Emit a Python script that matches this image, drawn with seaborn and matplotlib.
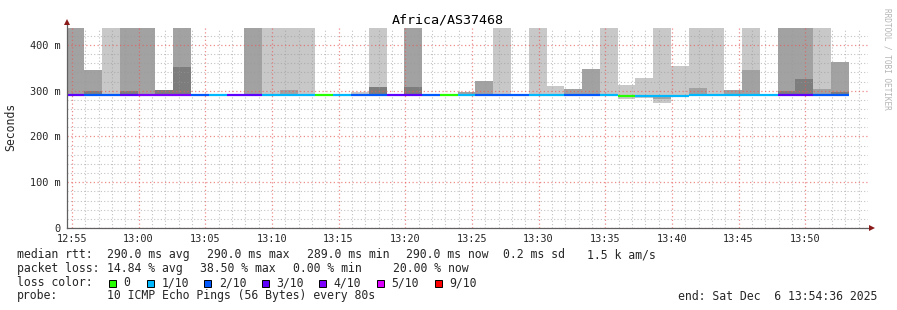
import numpy as np
import pandas as pd
import matplotlib
matplotlib.use("Agg")
import matplotlib.pyplot as plt
from matplotlib.patches import Rectangle
import seaborn as sns

# ---------------- data ----------------
title = "Africa/AS37468"
step_min = 80 / 60.0          # one probe round = 80 s
start_min = -0.4              # 12:54:36 relative to 12:55
n_bars = 44

median_rtt = [290, 290, 290, 290, 290, 290, 290, 290, 290, 290,
              290, 290, 290, 290, 290, 290, 290, 290, 290, 290,
              290, 290, 290, 290, 290, 290, 290, 290, 290, 290,
              290, 289, 289, 289, 289, 290, 290, 290, 290, 290,
              290, 290, 290, 290]
loss = [3, 2, 2, 3, 4, 4, 4, 2, 1, 3,
        3, 1, 1, 1, 0, 1, 2, 2, 3, 3,
        2, 0, 1, 2, 2, 2, 1, 1, 2, 2,
        1, 0, 1, 1, 1, 1, 1, 1, 1, 1,
        3, 3, 2, 2]

N = np.nan
light_low = [N, N, 290, N, N, N, N, N, N, N,
             N, 290, 290, 290, N, N, 290, 290, N, N,
             N, N, N, N, 290, N, 290, 290, N, N,
             290, 282, 283, 274, 290, 290, 290, N, 290, N,
             N, N, 290, N]
light_high = [N, N, 450, N, N, N, N, N, N, N,
              N, 450, 450, 450, N, N, 298, 450, N, N,
              N, N, N, N, 450, N, 450, 310, N, N,
              450, 313, 328, 450, 354, 450, 450, N, 450, N,
              N, N, 450, N]
mid_low = [290, 290, N, 290, 290, N, 290, N, N, N,
           290, N, 290, N, N, N, N, N, N, 290,
           N, N, 290, 290, N, N, N, N, 290, 290,
           N, N, N, 282, N, 290, N, 290, 290, N,
           290, 290, 290, 290]
mid_high = [450, 345, N, 450, 450, N, 450, N, N, N,
            450, N, 302, N, N, N, N, N, N, 450,
            N, N, 298, 321, N, N, N, N, 304, 348,
            N, N, N, 290, N, 306, N, 302, 346, N,
            450, 450, 304, 363]
dark_low = [N, 290, N, 290, N, 290, 290, N, N, N,
            N, N, N, N, N, N, N, 290, N, 290,
            N, N, N, N, N, N, N, N, N, N,
            N, N, N, N, N, N, N, N, N, N,
            290, 290, N, 290]
dark_high = [N, 299, N, 299, N, 302, 351, N, N, N,
             N, N, N, N, N, N, N, 307, N, 309,
             N, N, N, N, N, N, N, N, N, N,
             N, N, N, N, N, N, N, N, N, N,
             300, 326, N, 298]

xtick_minutes = [0, 5, 10, 15, 20, 25, 30, 35, 40, 45, 50, 55]
xtick_labels = ["12:55", "13:00", "13:05", "13:10", "13:15", "13:20",
                "13:25", "13:30", "13:35", "13:40", "13:45", "13:50"]
ytick_values = [0, 100, 200, 300, 400]
ytick_labels = ["0", "100 m", "200 m", "300 m", "400 m"]

loss_keys = [0, 1, 2, 3, 4, 5, 9]
loss_labels = ["0", "1/10", "2/10", "3/10", "4/10", "5/10", "9/10"]
loss_colors = ["#26ff00", "#00b8ff", "#0059ff", "#5e00ff", "#7e00ff", "#dd00ff", "#ff0000"]

stat_rtt = ["median rtt:", "290.0 ms avg", "290.0 ms max", "289.0 ms min",
            "290.0 ms now", "0.2 ms sd", "1.5 k am/s"]
stat_loss = ["packet loss:", "14.84 % avg", "38.50 % max", "0.00 % min", "20.00 % now"]
probe_text = ["probe:", "10 ICMP Echo Pings (56 Bytes) every 80s"]
end_text = "end: Sat Dec  6 13:54:36 2025"
side_text = "RRDTOOL / TOBI OETIKER"

# ---------------- style ----------------
sns.set_style("white")
plt.rcParams["font.family"] = ["DejaVu Sans Mono", "DejaVu Sans"]

W, H = 897, 310
fig = plt.figure(figsize=(W / 100, H / 100), dpi=100)
fig.patch.set_facecolor("white")


def fx(x):
    return x / W


def fy(y):
    return 1 - y / H


ax_left, ax_right, ax_top, ax_bot = 66.5, 868.0, 28.0, 228.0
ax = fig.add_axes([fx(ax_left), fy(ax_bot), (ax_right - ax_left) / W, (ax_bot - ax_top) / H])
ax.set_facecolor("white")

xmin = start_min
xmax = start_min + (ax_right - ax_left) / (200.0 / 15.0)
ax.set_xlim(xmin, xmax)
ax.set_ylim(0, 437)

starts = start_min + step_min * np.arange(n_bars)


def draw_band(lo, hi, color):
    lo = np.array(lo, dtype=float)
    hi = np.array(hi, dtype=float)
    ok = ~np.isnan(lo)
    ax.bar(starts[ok], hi[ok] - lo[ok], bottom=lo[ok], width=step_min,
           align="edge", color=color, linewidth=0, zorder=1)


draw_band(light_low, light_high, "#c8c8c8")
draw_band(mid_low, mid_high, "#a2a2a2")
draw_band(dark_low, dark_high, "#7d7d7d")

# median line coloured by loss, via seaborn
lab_of = dict(zip(loss_keys, loss_labels))
rows = []
for k in range(n_bars):
    for t in (starts[k], starts[k] + step_min):
        rows.append({"t": t, "rtt": median_rtt[k], "seg": k, "loss": lab_of[loss[k]]})
df = pd.DataFrame(rows)
sns.lineplot(data=df, x="t", y="rtt", hue="loss", units="seg", estimator=None,
             palette=dict(zip(loss_labels, loss_colors)), linewidth=1.6,
             legend=False, ax=ax, zorder=4, solid_capstyle="butt")
ax.set_xlabel("")
ax.set_ylabel("")

# grid (drawn over smoke like rrdtool)
ax.set_xticks(xtick_minutes)
ax.set_xticklabels(xtick_labels)
ax.set_xticks(np.arange(0, 60, 1), minor=True)
ax.set_yticks(ytick_values)
ax.set_yticklabels(ytick_labels)
ax.set_yticks(np.arange(0, 437, 20), minor=True)
ax.set_axisbelow(False)
ax.grid(which="major", color="#e85a5a", alpha=0.7, linestyle=(0, (1, 2)), linewidth=0.9, zorder=2)
ax.grid(which="minor", color="#9a9a9a", alpha=0.6, linestyle=(0, (1, 2)), linewidth=0.8, zorder=2)

ax.tick_params(axis="both", which="major", length=3, width=0.8, color="#606060",
               direction="inout", labelsize=7.4, pad=2.5)
ax.tick_params(axis="both", which="minor", length=2, width=0.6, color="#909090", direction="inout")

for s in ("top", "right"):
    ax.spines[s].set_visible(False)
for s in ("left", "bottom"):
    ax.spines[s].set_color("#606060")
    ax.spines[s].set_linewidth(0.9)
    ax.spines[s].set_zorder(5)

# arrows
ax.plot([0], [1.03], marker="^", color="#8b1a1a", markersize=4.5, transform=ax.transAxes,
        clip_on=False, zorder=6, markeredgewidth=0)
ax.plot([1.005], [0], marker=">", color="#8b1a1a", markersize=4.5, transform=ax.transAxes,
        clip_on=False, zorder=6, markeredgewidth=0)
ax.spines["left"].set_bounds(0, 450)

# title / labels
fig.text(fx(448), fy(20), title, ha="center", va="center", fontsize=9.6, color="black")
fig.text(fx(11), fy(127), "Seconds", rotation=90, ha="center", va="center", fontsize=8.3)
fig.text(fx(887), fy(59), side_text, rotation=270, ha="center", va="center",
         fontsize=5.6, color="#b4b4b4")

fs = 8.3
rtt_x = [16.7, 107.3, 207.3, 306.7, 406.0, 503.3, 586.7]
for x, s in zip(rtt_x, stat_rtt):
    fig.text(fx(x), fy(254.5), s, ha="left", va="center", fontsize=fs)
loss_x = [16.7, 107.3, 200.0, 293.3, 393.3]
for x, s in zip(loss_x, stat_loss):
    fig.text(fx(x), fy(268.3), s, ha="left", va="center", fontsize=fs)

fig.text(fx(16.7), fy(282.5), "loss color:", ha="left", va="center", fontsize=fs)
sq_x = [108.5, 146.7, 204.3, 261.7, 319.3, 376.7, 434.5]
for x, lab, c in zip(sq_x, loss_labels, loss_colors):
    fig.add_artist(Rectangle((fx(x), fy(286.5)), 7 / W, 7 / H, transform=fig.transFigure,
                             facecolor=c, edgecolor="black", linewidth=0.7))
    fig.text(fx(x + 14.5), fy(282.5), lab, ha="left", va="center", fontsize=fs)

fig.text(fx(16.7), fy(296), probe_text[0], ha="left", va="center", fontsize=fs)
fig.text(fx(107.3), fy(296), probe_text[1], ha="left", va="center", fontsize=fs)
fig.text(fx(678.3), fy(296), end_text, ha="left", va="center", fontsize=fs)

fig.savefig("out.png", dpi=100, facecolor="white")
